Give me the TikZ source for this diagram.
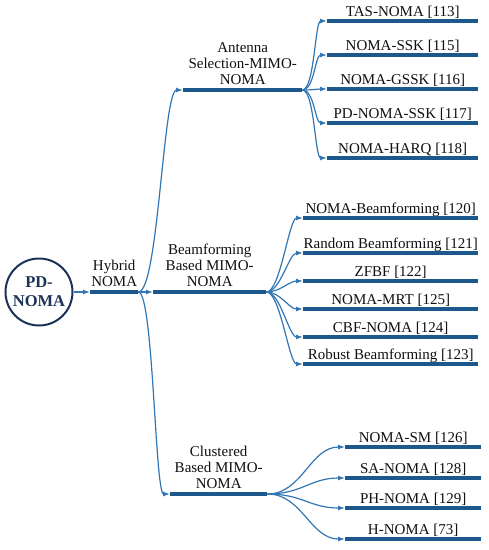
\documentclass[tikz,border=0pt]{standalone}
\usepackage{fontspec}
\setmainfont{Liberation Serif}
\usetikzlibrary{arrows.meta}
\definecolor{thickc}{RGB}{28,88,140}
\definecolor{thinc}{RGB}{50,118,180}
\definecolor{navy}{RGB}{28,50,88}
\definecolor{txt}{RGB}{15,15,20}
\begin{document}
\begin{tikzpicture}[x=1pt,y=-1pt,
  leaf/.style={anchor=south west, inner xsep=0pt, inner ysep=1.5pt, text depth=3pt,
    font=\fontsize{15}{16}\selectfont, text=txt},
  cat/.style={anchor=south west, inner xsep=0pt, inner ysep=5pt, text depth=0pt,
    align=center, font=\fontsize{15}{16}\selectfont, text=txt},
  bar/.style={draw=thickc, line width=3.2pt},
  conn/.style={draw=thinc, line width=1.2pt, -{Latex[length=7pt,width=5pt]}, out=0, in=180},
  rootnode/.style={circle, draw=navy, line width=2pt, minimum size=67pt, inner sep=0pt,
    align=center, font=\fontsize{16.5}{19}\selectfont\bfseries, text=navy}
]
\useasboundingbox (0,0) rectangle (489,550);

% root and first level
\node[rootnode] (root) at (39,292) {PD-\\NOMA};
\node[cat, minimum width=48pt] (hy) at (90,292) {Hybrid\\NOMA};

% categories
\node[cat, minimum width=119pt] (ant) at (183,90) {Antenna\\Selection-MIMO-\\NOMA};
\node[cat, minimum width=113pt] (bf) at (153,292) {Beamforming\\Based MIMO-\\NOMA};
\node[cat, minimum width=97pt] (cl) at (170,494) {Clustered\\Based MIMO-\\NOMA};

% antenna leaves
\node[leaf, minimum width=151pt] (a1) at (327,21) {TAS-NOMA [113]};
\node[leaf, minimum width=151pt] (a2) at (327,55) {NOMA-SSK [115]};
\node[leaf, minimum width=151pt] (a3) at (327,89) {NOMA-GSSK [116]};
\node[leaf, minimum width=151pt] (a4) at (327,123) {PD-NOMA-SSK [117]};
\node[leaf, minimum width=151pt] (a5) at (327,158) {NOMA-HARQ [118]};

% beamforming leaves
\node[leaf, minimum width=175pt] (b1) at (303,218) {NOMA-Beamforming [120]};
\node[leaf, minimum width=175pt] (b2) at (303,253) {Random Beamforming [121]};
\node[leaf, minimum width=175pt] (b3) at (303,281) {ZFBF [122]};
\node[leaf, minimum width=175pt] (b4) at (303,309) {NOMA-MRT [125]};
\node[leaf, minimum width=175pt] (b5) at (303,337) {CBF-NOMA [124]};
\node[leaf, minimum width=175pt] (b6) at (303,364) {Robust Beamforming [123]};

% clustered leaves
\node[leaf, minimum width=136pt] (c1) at (345,447) {NOMA-SM [126]};
\node[leaf, minimum width=136pt] (c2) at (345,478) {SA-NOMA [128]};
\node[leaf, minimum width=136pt] (c3) at (345,508) {PH-NOMA [129]};
\node[leaf, minimum width=136pt] (c4) at (345,539) {H-NOMA [73]};

% underline bars
\foreach \n in {hy,ant,bf,cl,a1,a2,a3,a4,a5,b1,b2,b3,b4,b5,b6,c1,c2,c3,c4}
  \draw[bar] (\n.south west) -- (\n.south east);

% connectors
\draw[conn] (root.east) to (hy.south west);
\draw[conn, distance=20pt] (hy.south east) to (ant.south west);
\draw[conn] (hy.south east) to (bf.south west);
\draw[conn, distance=15pt] (hy.south east) to (cl.south west);

\foreach \n in {a1,a2,a3,a4,a5}
  \draw[conn, distance=12pt] (ant.south east) to (\n.south west);
\foreach \n in {b1,b2,b3,b4,b5,b6}
  \draw[conn, distance=14pt] (bf.south east) to (\n.south west);
\foreach \n in {c1,c2,c3,c4}
  \draw[conn, distance=35pt] (cl.south east) to (\n.south west);
\end{tikzpicture}
\end{document}
